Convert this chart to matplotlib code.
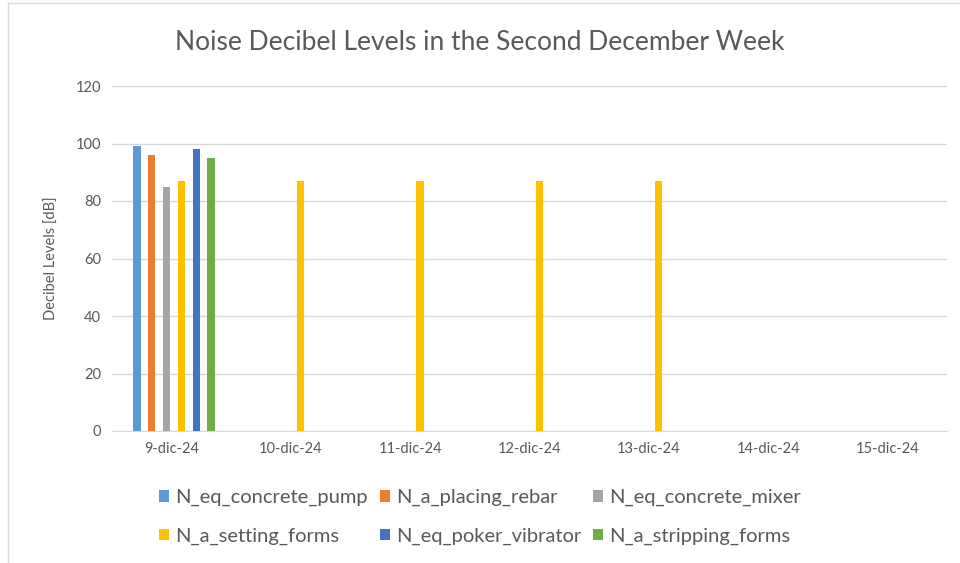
import numpy as np
import matplotlib.pyplot as plt
from matplotlib.lines import Line2D

plt.rcParams['font.family'] = ['Lato', 'DejaVu Sans']

# data
days = ['9-dic-24', '10-dic-24', '11-dic-24', '12-dic-24',
        '13-dic-24', '14-dic-24', '15-dic-24']
series = ['N_eq_concrete_pump', 'N_a_placing_rebar', 'N_eq_concrete_mixer',
          'N_a_setting_forms', 'N_eq_poker_vibrator', 'N_a_stripping_forms']
concrete_pump = [99, 0, 0, 0, 0, 0, 0]
placing_rebar = [96, 0, 0, 0, 0, 0, 0]
concrete_mixer = [85, 0, 0, 0, 0, 0, 0]
setting_forms = [87, 87, 87, 87, 87, 0, 0]
poker_vibrator = [98, 0, 0, 0, 0, 0, 0]
stripping_forms = [95, 0, 0, 0, 0, 0, 0]
values = [concrete_pump, placing_rebar, concrete_mixer,
          setting_forms, poker_vibrator, stripping_forms]
colors = ['#5b9bd5', '#ed7d31', '#a5a5a5', '#ffc000', '#4472c4', '#70ad47']

fig = plt.figure(figsize=(9.6, 5.63), dpi=100)
ax = fig.add_axes([112 / 960, 1 - 431 / 563, 835 / 960, 345 / 563])

x = np.arange(len(days))
step = 0.124
width = 0.06
for i, (vals, col) in enumerate(zip(values, colors)):
    offs = (i - 2.5) * step + 0.02
    v = np.array(vals, dtype=float)
    v[v == 0] = np.nan
    ax.bar(x + offs, v, width=width, color=col, label=series[i], zorder=3)

ax.set_xlim(-0.5, len(days) - 0.5)
ax.set_ylim(0, 120)
ax.set_yticks(range(0, 121, 20))
ax.set_xticks(x)
ax.set_xticklabels(days)
ax.grid(axis='y', color='#d9d9d9', linewidth=1, zorder=0)
for s in ['top', 'right', 'left']:
    ax.spines[s].set_visible(False)
ax.spines['bottom'].set_color('#d9d9d9')
ax.tick_params(length=0, labelsize=10.5, labelcolor='#595959', pad=8)
ax.set_ylabel('Decibel Levels [dB]', fontsize=10.5, color='#595959', labelpad=12)

fig.text(0.5, 1 - 42 / 563, 'Noise Decibel Levels in the Second December Week',
         ha='center', va='center', fontsize=19, color='#595959')

# legend filled row by row, as in the reference
handles, labels = ax.get_legend_handles_labels()
order = [0, 3, 1, 4, 2, 5]
leg = fig.legend([handles[k] for k in order], [labels[k] for k in order],
                 ncol=3, loc='center', bbox_to_anchor=(0.5, 1 - 517 / 563),
                 frameon=False, fontsize=14.5, handlelength=0.5,
                 handleheight=0.5, handletextpad=0.3, columnspacing=0.6,
                 labelspacing=1.05)
for t in leg.get_texts():
    t.set_color('#595959')

# chart frame (partially visible in the reference)
fig.add_artist(Line2D([8 / 960, 8 / 960], [0, 1 - 3 / 563], color='#d9d9d9', lw=1))
fig.add_artist(Line2D([8 / 960, 1], [1 - 3 / 563, 1 - 3 / 563], color='#d9d9d9', lw=1))

fig.savefig('out.png', dpi=100)
